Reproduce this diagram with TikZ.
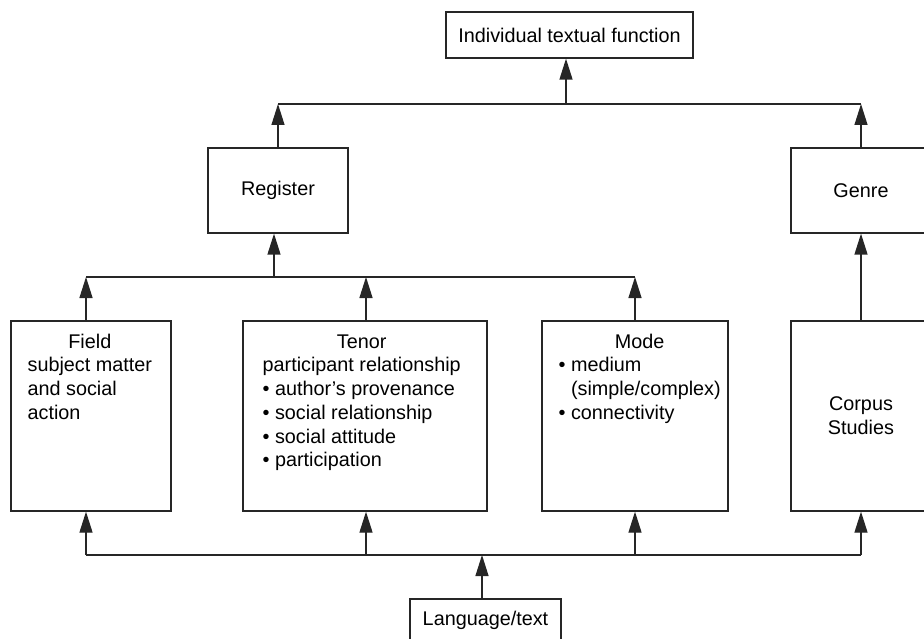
\documentclass[tikz,border=0pt]{standalone}
\usepackage{fontspec}
\setmainfont{Liberation Sans}
\usetikzlibrary{arrows.meta}

\begin{document}
\begin{tikzpicture}[x=1pt,y=-1pt,line width=1.3pt,
    >={Triangle[length=21pt,width=13pt]}]
            \tikzstyle{box}=[rectangle,draw=black!85,inner sep=0pt,font=\fontsize{19.8}{23.7}\selectfont]
            \tikzstyle{txt}=[inner sep=0pt,anchor=north west,font=\fontsize{19.8}{23.7}\selectfont]
            \tikzstyle{flow}=[->,draw=black!85,fill=black]

                \useasboundingbox (0,0) rectangle (924,639);
                \clip (0,0) rectangle (924,639);

                % boxes
                \node[box,minimum width=247pt,minimum height=46pt] (itf) at (569.5,35) {Individual textual function};
                \node[box,minimum width=140pt,minimum height=85pt] (reg) at (278,190.5) {Register};
                \node[box,minimum width=140pt,minimum height=85pt] (genre) at (861,190.5) {Genre};
                \node[box,minimum width=160pt,minimum height=190pt] (field) at (91,416) {};
                \node[box,minimum width=244pt,minimum height=190pt] (tenor) at (365,416) {};
                \node[box,minimum width=186pt,minimum height=190pt] (mode) at (635,416) {};
                \node[box,minimum width=140pt,minimum height=190pt,align=center] (corpus) at (861,416) {Corpus\\Studies};
                \node[box,minimum width=151pt,minimum height=42pt] (lang) at (485.5,620) {Language/text};

                % box texts
                \node[txt] (field-t) at (27,331) {\begin{tabular}{@{}l@{}}\multicolumn{1}{@{}c@{}}{Field}\\ subject matter\\ and social\\ action\end{tabular}};
                \node[txt] (tenor-t) at (262,331) {\begin{tabular}{@{}l@{}}\multicolumn{1}{@{}c@{}}{Tenor}\\ participant relationship\\ \textbullet\ author’s provenance\\ \textbullet\ social relationship\\ \textbullet\ social attitude\\ \textbullet\ participation\end{tabular}};
                \node[txt] (mode-t) at (558,331) {\begin{tabular}{@{}l@{}}\multicolumn{1}{@{}c@{}}{Mode}\\ \textbullet\ medium\\ \phantom{\textbullet\ }(simple/complex)\\ \textbullet\ connectivity\end{tabular}};

                % junctions
                \coordinate (L) at (482,555);
                \coordinate (b-1) at (86,555);
                \coordinate (b-2) at (366,555);
                \coordinate (b-3) at (635,555);
                \coordinate (b-4) at (861,555);
                \coordinate (m-1) at (86,277);
                \coordinate (m-2) at (366,277);
                \coordinate (m-3) at (635,277);
                \coordinate (m-r) at (274,277);
                \coordinate (t-1) at (278,104);
                \coordinate (t-2) at (861,104);
                \coordinate (t-i) at (566,104);

                \draw[black!85] (b-1) -- (b-4);
                \draw[black!85] (m-1) -- (m-3);
                \draw[black!85] (t-1) -- (t-2);

                \draw[flow] (lang.north -| L) -- (L);
                \foreach \n/\b in {1/field, 2/tenor, 3/mode, 4/corpus}
                    \draw[flow] (b-\n) -- (\b.south -| b-\n);
                \foreach \n/\b in {1/field, 2/tenor, 3/mode}
                    \draw[flow] (\b.north -| m-\n) -- (m-\n);
                \draw[flow] (m-r) -- (reg.south -| m-r);
                \draw[flow] (reg.north -| t-1) -- (t-1);
                \draw[flow] (genre.north) -- (t-2);
                \draw[flow] (corpus.north) -- (genre.south);
                \draw[flow] (t-i) -- (itf.south -| t-i);
        \end{tikzpicture}
\end{document}
